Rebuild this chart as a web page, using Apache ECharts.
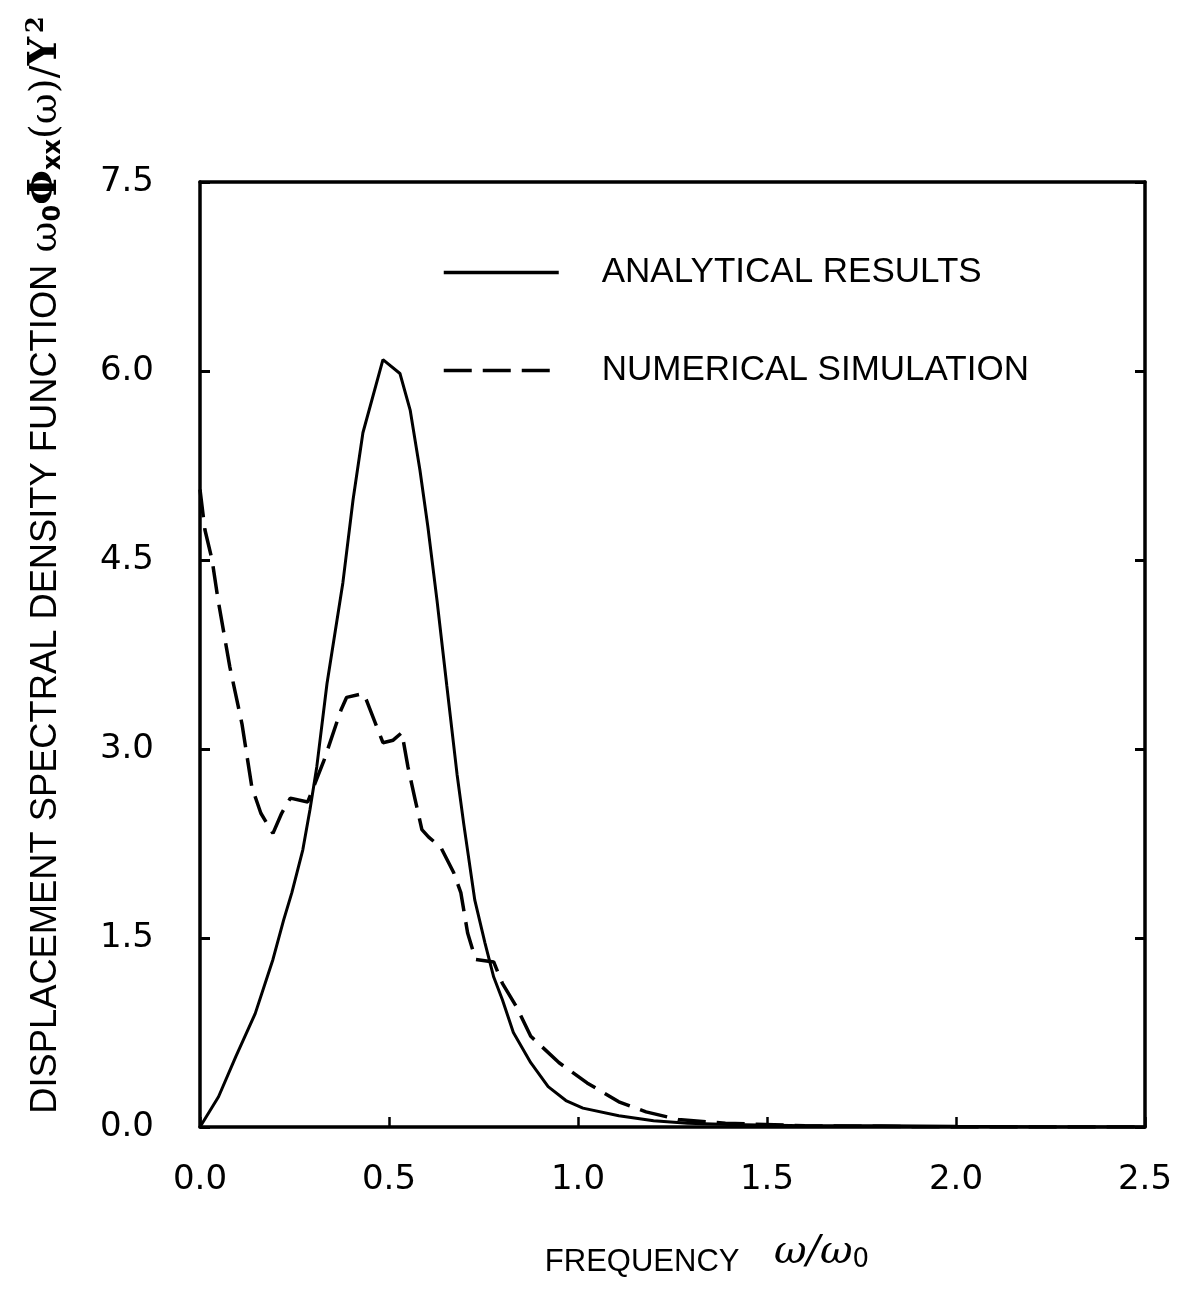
<!DOCTYPE html>
<html>
<head>
<meta charset="utf-8">
<title>Displacement spectral density</title>
<script src="https://cdn.jsdelivr.net/npm/echarts@6/dist/echarts.min.js"></script>
<style>
  html, body { margin: 0; padding: 0; background: #ffffff; }
  #chart { width: 1185px; height: 1294px; }
</style>
</head>
<body>
<div id="chart"></div>
<script>
// Frequency ratio ω/ω0 and normalised spectral density, analytical solution
const analyticalX = [0, 0.049, 0.095, 0.146, 0.193, 0.221, 0.243, 0.272, 0.291, 0.309, 0.336, 0.378, 0.405,
  0.431, 0.484, 0.529, 0.556, 0.582, 0.603, 0.627, 0.653, 0.680, 0.698, 0.727, 0.754, 0.777, 0.800, 0.829,
  0.875, 0.921, 0.968, 1.013, 1.108, 1.200, 1.290, 1.400, 1.600, 1.800, 2.000, 2.250, 2.500];
const analyticalY = [0, 0.24, 0.56, 0.90, 1.33, 1.64, 1.86, 2.20, 2.52, 2.86, 3.52, 4.32, 4.98,
  5.51, 6.09, 5.98, 5.69, 5.21, 4.76, 4.18, 3.50, 2.80, 2.40, 1.80, 1.46, 1.19, 1.01, 0.75,
  0.51, 0.32, 0.21, 0.15, 0.09, 0.05, 0.03, 0.02, 0.01, 0.01, 0.005, 0, 0];

// Same quantity estimated from the numerical simulation
const simulationX = [0, 0.013, 0.032, 0.048, 0.079, 0.111, 0.137, 0.161, 0.193, 0.216, 0.239, 0.285, 0.328,
  0.373, 0.388, 0.432, 0.440, 0.484, 0.511, 0.534, 0.550, 0.569, 0.587, 0.605, 0.637, 0.671, 0.690, 0.708,
  0.729, 0.777, 0.800, 0.838, 0.875, 0.950, 1.024, 1.108, 1.180, 1.265, 1.390, 1.600, 1.800, 2.000, 2.500];
const simulationY = [5.06, 4.74, 4.50, 4.18, 3.65, 3.20, 2.70, 2.49, 2.33, 2.49, 2.61, 2.58, 2.91,
  3.31, 3.41, 3.44, 3.39, 3.05, 3.07, 3.13, 2.86, 2.60, 2.36, 2.30, 2.22, 2.02, 1.86, 1.54,
  1.33, 1.31, 1.14, 0.95, 0.72, 0.51, 0.35, 0.20, 0.12, 0.06, 0.03, 0.01, 0.005, 0, 0];

// Axis ranges and tick spacing
const xTicks = { min: 0, max: 2.5, interval: 0.5 };
const yTicks = { min: 0, max: 7.5, interval: 1.5 };

const seriesNames = ['ANALYTICAL RESULTS', 'NUMERICAL SIMULATION'];

const pairs = (xs, ys) => xs.map((x, i) => [x, ys[i]]);

const chart = echarts.init(document.getElementById('chart'), null, { renderer: 'canvas' });

const axisLineStyle = { color: '#000', width: 3.5 };
const tickFont = { color: '#000', fontSize: 34, fontFamily: 'DejaVu Sans' };

chart.setOption({
  backgroundColor: '#ffffff',
  animation: false,
  grid: { left: 200, right: 40, top: 182, bottom: 167, containLabel: false },
  legend: {
    orient: 'vertical',
    left: 437,
    top: 250,
    itemWidth: 115,
    itemHeight: 20,
    itemGap: 63,
    data: seriesNames,
    itemStyle: { opacity: 0 },
    lineStyle: { width: 3.5 },
    textStyle: {
      color: '#000',
      fontSize: 35,
      fontFamily: 'Liberation Sans',
      padding: [0, 0, 0, 38]
    }
  },
  xAxis: [
    {
      type: 'value',
      min: xTicks.min, max: xTicks.max, interval: xTicks.interval,
      position: 'bottom',
      axisLine: { show: true, onZero: false, lineStyle: axisLineStyle },
      axisTick: { show: true, inside: true, length: 10, lineStyle: { color: '#000', width: 2.5 } },
      axisLabel: Object.assign({ margin: 36, formatter: v => v.toFixed(1) }, tickFont),
      splitLine: { show: false }
    },
    {
      type: 'value',
      min: xTicks.min, max: xTicks.max, interval: xTicks.interval,
      position: 'top',
      axisLine: { show: true, onZero: false, lineStyle: axisLineStyle },
      axisTick: { show: false },
      axisLabel: { show: false },
      splitLine: { show: false }
    }
  ],
  yAxis: [
    {
      type: 'value',
      min: yTicks.min, max: yTicks.max, interval: yTicks.interval,
      position: 'left',
      axisLine: { show: true, onZero: false, lineStyle: axisLineStyle },
      axisTick: { show: true, inside: true, length: 10, lineStyle: { color: '#000', width: 3 } },
      axisLabel: Object.assign({ margin: 46, formatter: v => v.toFixed(1) }, tickFont),
      splitLine: { show: false }
    },
    {
      type: 'value',
      min: yTicks.min, max: yTicks.max, interval: yTicks.interval,
      position: 'right',
      axisLine: { show: true, onZero: false, lineStyle: axisLineStyle },
      axisTick: { show: true, inside: true, length: 10, lineStyle: { color: '#000', width: 3 } },
      axisLabel: { show: false },
      splitLine: { show: false }
    }
  ],
  graphic: [
    {
      // vertical axis title
      type: 'text',
      x: 46,
      y: 565,
      rotation: Math.PI / 2,
      style: {
        text: '{t|DISPLACEMENT SPECTRAL DENSITY FUNCTION}{g|  }{w|ω}{s|0}{p|Φ}{s|xx}{w|(ω)/}{p|Y}{u|2}',
        align: 'center',
        verticalAlign: 'middle',
        fill: '#000',
        rich: {
          t: { fontSize: 36.3, fontFamily: 'Liberation Sans', fill: '#000' },
          g: { fontSize: 22, fontFamily: 'Liberation Sans' },
          w: { fontSize: 38, fontFamily: 'DejaVu Serif', fill: '#000' },
          s: { fontSize: 24, fontFamily: 'DejaVu Sans', fontWeight: 'bold', fill: '#000', padding: [16, 0, 0, 0] },
          p: { fontSize: 40, fontFamily: 'DejaVu Serif', fontWeight: 'bold', fill: '#000' },
          u: { fontSize: 24, fontFamily: 'DejaVu Serif', fontWeight: 'bold', fill: '#000', padding: [0, 0, 18, 4] }
        }
      }
    },
    {
      // horizontal axis title
      type: 'text',
      x: 707,
      y: 1262,
      style: {
        text: '{t|FREQUENCY}{g|    }{w|ω/ω}{s|0}',
        align: 'center',
        verticalAlign: 'middle',
        fill: '#000',
        rich: {
          t: { fontSize: 31, fontFamily: 'Liberation Sans', fill: '#000' },
          g: { fontSize: 31, fontFamily: 'Liberation Sans' },
          w: { fontSize: 40, fontFamily: 'DejaVu Serif', fontStyle: 'italic', fill: '#000', padding: [0, 0, 18, 0] },
          s: { fontSize: 26, fontFamily: 'DejaVu Sans', fill: '#000', padding: [0, 0, 4, 0] }
        }
      }
    }
  ],
  series: [
    {
      name: seriesNames[0],
      type: 'line',
      xAxisIndex: 0,
      yAxisIndex: 0,
      data: pairs(analyticalX, analyticalY),
      showSymbol: false,
      symbol: 'none',
      smooth: false,
      lineStyle: { color: '#000', width: 3 },
      itemStyle: { color: '#000' },
      clip: true
    },
    {
      name: seriesNames[1],
      type: 'line',
      xAxisIndex: 0,
      yAxisIndex: 0,
      data: pairs(simulationX, simulationY),
      showSymbol: false,
      symbol: 'none',
      smooth: false,
      lineStyle: { color: '#000', width: 3.5, type: [28, 11] },
      itemStyle: { color: '#000' },
      clip: true
    }
  ]
});
</script>
</body>
</html>
